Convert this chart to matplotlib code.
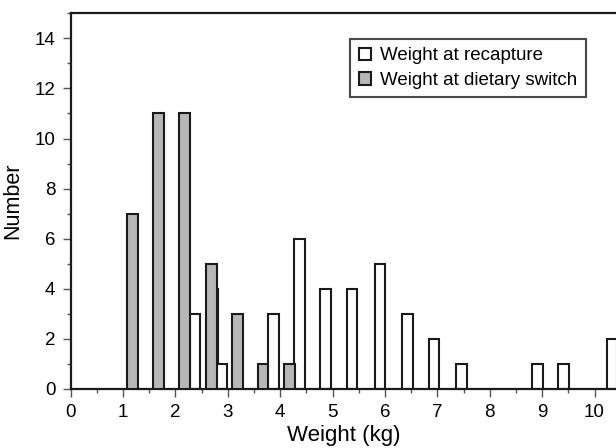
import numpy as np
import matplotlib.pyplot as plt
from matplotlib.patches import Patch
from matplotlib.ticker import MultipleLocator

plt.rcParams['font.family'] = ['Liberation Sans', 'DejaVu Sans']

# weight at dietary switch (grey)
switch_x = [1.18, 1.68, 2.17, 2.69, 3.18, 3.67, 4.18]
switch_n = [7, 11, 11, 5, 3, 1, 1]

# weight at recapture (white)
recap_x = [2.37, 2.71, 2.88, 3.87, 4.37, 4.86, 5.37, 5.90, 6.43, 6.94, 7.46, 8.91, 9.41, 10.33]
recap_n = [3, 4, 1, 3, 6, 4, 4, 5, 3, 2, 1, 1, 1, 2]

bar_w = 0.2
edge = '#1a1a1a'

fig = plt.figure(figsize=(6.16, 4.48), dpi=100)
ax = fig.add_axes([0.1148, 0.1317, 0.8852, 0.8386])

ax.bar(recap_x, recap_n, width=bar_w, color='white', edgecolor=edge, linewidth=1.5, zorder=2)
ax.bar(switch_x, switch_n, width=bar_w, color='#b7b7b7', edgecolor=edge, linewidth=1.5, zorder=3)

ax.set_xlim(0, 10.41)
ax.set_ylim(0, 15)
ax.xaxis.set_major_locator(MultipleLocator(1))
ax.xaxis.set_minor_locator(MultipleLocator(0.5))
ax.yaxis.set_major_locator(MultipleLocator(2))
ax.yaxis.set_minor_locator(MultipleLocator(1))
ax.set_yticks(np.arange(0, 15, 2))
ax.tick_params(which='major', direction='out', length=6, width=1, color='#555555', labelsize=13.5, pad=5)
ax.tick_params(which='minor', direction='out', length=3, width=1, color='#555555')

for s in ['left', 'bottom', 'top']:
    ax.spines[s].set_linewidth(1.6)
    ax.spines[s].set_color(edge)
ax.spines['right'].set_visible(False)

ax.set_xlabel('Weight (kg)', fontsize=16, labelpad=3)
ax.set_ylabel('Number', fontsize=15.5, labelpad=8)

handles = [Patch(facecolor='white', edgecolor=edge, linewidth=1.5, label='Weight at recapture'),
           Patch(facecolor='#b7b7b7', edgecolor=edge, linewidth=1.5, label='Weight at dietary switch')]
leg = ax.legend(handles=handles, loc='upper right', bbox_to_anchor=(586 / 616, 1 - 39 / 448),
                bbox_transform=fig.transFigure, fontsize=13.5, frameon=True, fancybox=False,
                handlelength=0.65, handleheight=0.65, handletextpad=0.5, borderpad=0.45,
                labelspacing=0.4, borderaxespad=0)
leg.get_frame().set_edgecolor(edge)
leg.get_frame().set_linewidth(1.5)

fig.savefig('out.png', dpi=100)
